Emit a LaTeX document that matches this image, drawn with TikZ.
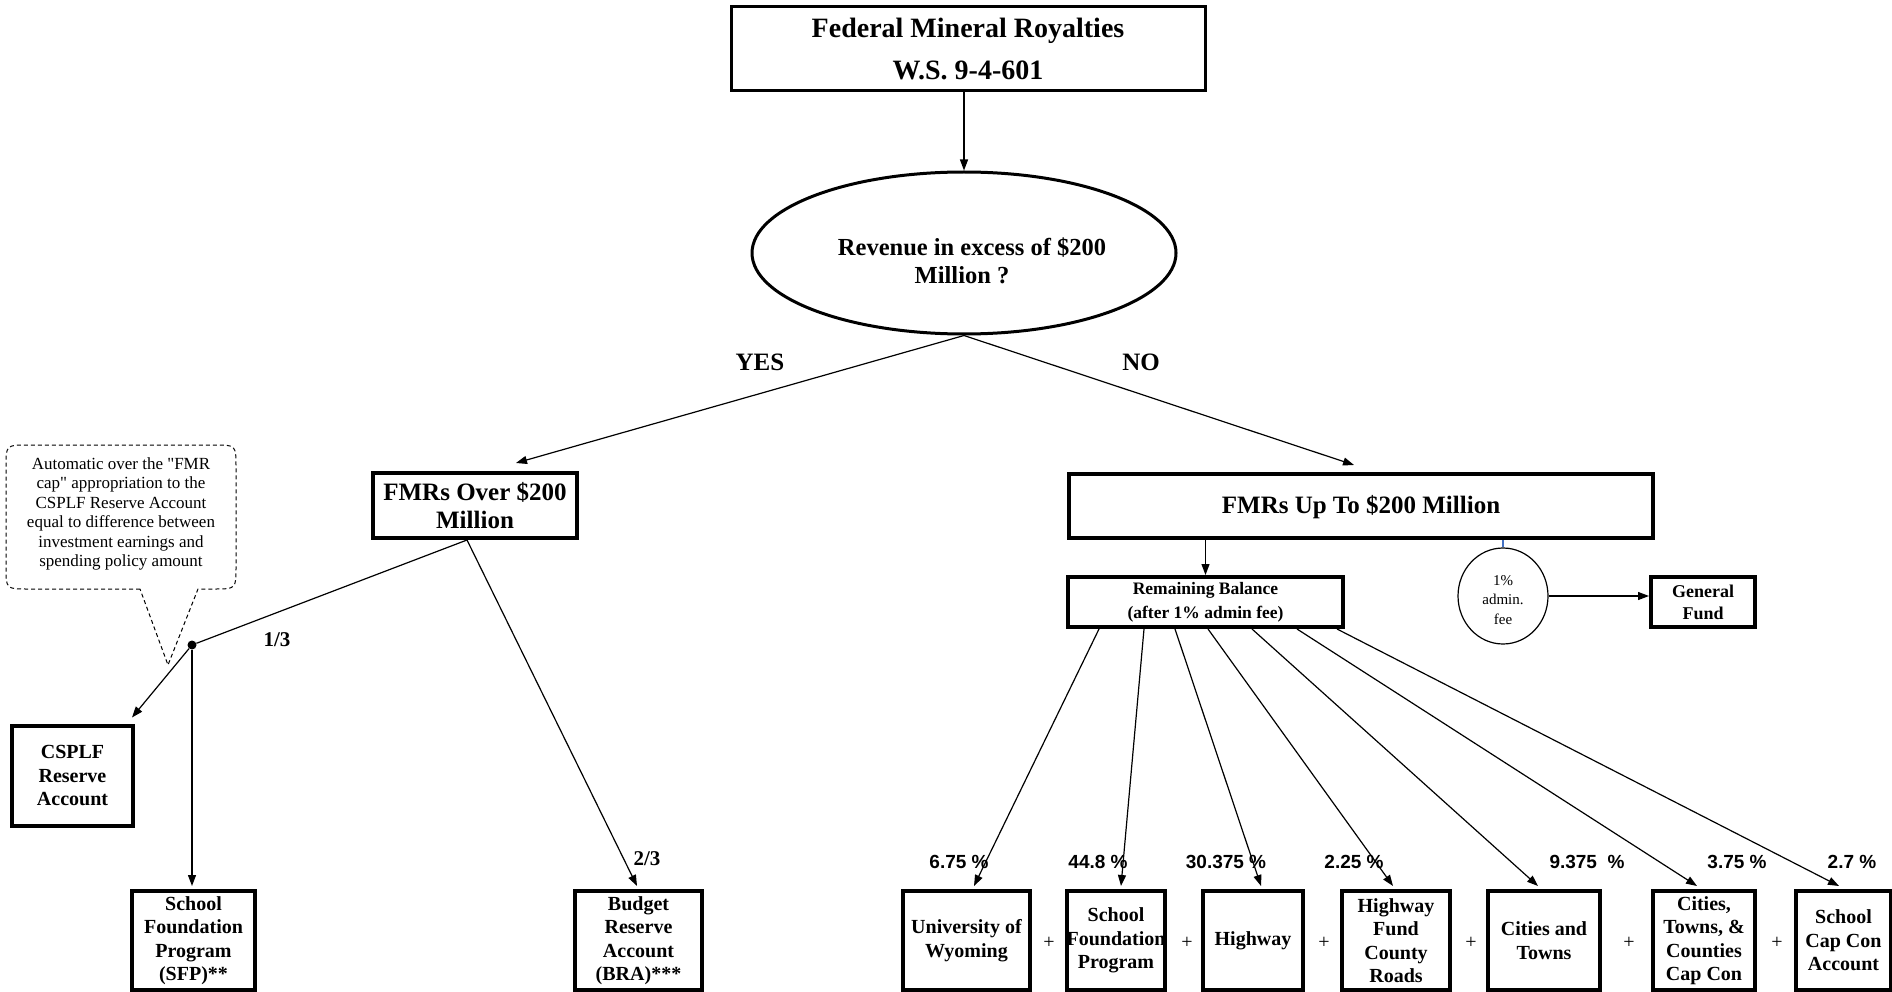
\documentclass[tikz,border=0pt]{standalone}
\usepackage{fontspec}
\setmainfont{Liberation Serif}[Ligatures=TeXOff]
\newfontfamily\arialfont{Liberation Sans}
\usetikzlibrary{arrows.meta,shapes.geometric,calc}
\newcommand{\fsz}[2]{\fontsize{#1}{#2}\selectfont}
\definecolor{feeblue}{RGB}{68,114,196}

\begin{document}
\begin{tikzpicture}[x=1pt,y=-1pt,
  conn/.style={line width=1.2pt,-{Triangle[length=11pt,width=8pt]}},
  plainline/.style={line width=1.2pt},
  heavybox/.style={draw,line width=4pt,inner sep=0pt,align=center,font=\bfseries\fsz{20}{23.5}},
  bottombox/.style={heavybox,minimum height=99pt},
  pct/.style={font=\arialfont\bfseries\fsz{19}{22}},
  plus/.style={font=\fsz{20}{24}},
  bigword/.style={font=\bfseries\fsz{25}{28}},
  calloutline/.style={dashed,dash pattern=on 4pt off 3pt,line width=1pt}]

\useasboundingbox (0,0) rectangle (1892,992);
\clip (0,0) rectangle (1892,992);

% --- decision part ---
\node[draw,line width=3pt,minimum width=474pt,minimum height=84pt,inner sep=0pt,
      align=center,font=\bfseries\fsz{28}{42}] (fmr) at (968,49)
      {Federal Mineral Royalties\\W.S. 9-4-601};
\node[ellipse,draw,line width=3pt,minimum width=424pt,minimum height=162pt,inner sep=0pt] (q) at (964,253) {};
\node[align=center,font=\bfseries\fsz{24.5}{28}] (qtext) at (972,261)
      {Revenue in excess of \$200\\Million ?\hspace*{20pt}};
\node[bigword] (yes) at (760,362) {YES};
\node[bigword] (no) at (1141,362) {NO};

\node[heavybox,font=\bfseries\fsz{25}{28},minimum width=204pt,minimum height=65pt] (over) at (475,505.5)
      {FMRs Over \$200\\Million};
\node[heavybox,font=\bfseries\fsz{25}{28},minimum width=584pt,minimum height=64pt,
      text depth=3pt] (up) at (1361,506)
      {FMRs Up To \$200 Million};

\draw[conn] (fmr.south -| q.north) -- (q.north);
\draw[conn] (q.south) -- ($(over.north)+(41,-8)$);
\draw[conn] (q.south) -- ($(up.north)+(-7,-7)$);

% --- over $200 million branch ---
\node[draw=none,align=center,font=\fsz{17}{19.5}] (note) at (121,514)
      {Automatic over the "FMR\\cap" appropriation to the\\CSPLF Reserve Account\\equal to difference between\\investment earnings and\\spending policy amount};
\draw[calloutline] (140,589) -- (28,589) .. controls (6,589) .. (6,567) -- (6,467)
      .. controls (6,445) .. (28,445) -- (214,445) .. controls (236,445) .. (236,467)
      -- (236,567) .. controls (236,589) .. (214,589) -- (198,589) -- (168,665) -- cycle;

\node[circle,fill,inner sep=0pt,minimum size=9pt] (split) at (192,645) {};
\node[font=\bfseries\fsz{21}{24}] (third) at (277,640) {1/3};
\node[font=\bfseries\fsz{21}{24}] (twothird) at (647,859) {2/3};

\node[heavybox,minimum width=121pt,minimum height=100pt] (cs) at (72.5,775.5)
      {CSPLF\\Reserve\\Account};
\node[bottombox,minimum width=123pt] (sfpl) at (193.5,940.5)
      {School\\Foundation\\Program\\(SFP)**};
\node[bottombox,minimum width=127pt] (bra) at (638.5,940.5)
      {Budget\\Reserve\\Account\\(BRA)***};

\coordinate (ob) at ($(over.south)+(-8,0)$);
\draw[plainline] (ob) -- (split);
\draw[conn] (ob) -- ($(bra.north)+(-1.5,-3)$);
\draw[conn] (split) -- ($(cs.north east)+(-3,-6)$);
\draw[conn,shorten >=3pt] (split) -- (split |- sfpl.north);

% --- up to $200 million branch ---
\node[heavybox,font=\bfseries\fsz{17.5}{24},minimum width=275pt,minimum height=50pt] (rem) at (1205.5,602)
      {Remaining Balance\\(after 1\% admin fee)};
\node[ellipse,draw,line width=1.2pt,minimum width=90pt,minimum height=96pt,inner sep=0pt] (fee) at (1503,596) {};
\node[align=center,font=\fsz{15}{19.5}] (feetext) at (1503,600) {1\%\\admin.\\fee};
\node[heavybox,font=\bfseries\fsz{18}{22},minimum width=104pt,minimum height=50pt] (gf) at (1703,602)
      {General\\Fund};

\draw[conn] (up.south -| rem.north) -- (rem.north);
\draw[line width=1.2pt,feeblue] (up.south -| fee.north) -- (fee.north);
\draw[conn] (fee.east) -- (gf.west |- fee.east);

\node[bottombox,minimum width=127pt] (uw) at (966.5,940.5) {University of\\Wyoming};
\node[bottombox,minimum width=98pt] (sfp) at (1116,940.5) {School\\Foundation\\Program};
\node[bottombox,minimum width=100pt] (hw) at (1253,940.5) {Highway};
\node[bottombox,minimum width=108pt] (hf) at (1396,940.5) {Highway\\Fund\\County\\Roads};
\node[bottombox,minimum width=112pt] (ct) at (1544,940.5) {Cities and\\Towns};
\node[bottombox,minimum width=102pt] (ctc) at (1704,940.5) {Cities,\\Towns, \&\\Counties\\Cap Con};
\node[bottombox,minimum width=95pt] (scc) at (1843.5,940.5) {School\\Cap Con\\Account};

\foreach \tgt/\dx/\tx in {uw/-106.5/7.5, sfp/-61.5/5, hw/-30.5/8, hf/2.5/-3,
                          ct/46.5/-6, ctc/91.5/-7, scc/131.5/-4.5}
  \draw[conn] ($(rem.south)+(\dx,0)$) -- ($(\tgt.north)+(\tx,-3)$);

\node[pct] (p1) at (959,862) {6.75 \%};
\node[pct] (p2) at (1098,862) {44.8 \%};
\node[pct] (p3) at (1226,862) {30.375 \%};
\node[pct] (p4) at (1354,862) {2.25 \%};
\node[pct] (p5) at (1587,862) {9.375~~\%};
\node[pct] (p6) at (1737,862) {3.75 \%};
\node[pct] (p7) at (1852,862) {2.7 \%};

\node[plus] (s1) at (1049,943) {+};
\node[plus] (s2) at (1187,943) {+};
\node[plus] (s3) at (1324,943) {+};
\node[plus] (s4) at (1471,943) {+};
\node[plus] (s5) at (1629,943) {+};
\node[plus] (s6) at (1777,943) {+};
\end{tikzpicture}
\end{document}
